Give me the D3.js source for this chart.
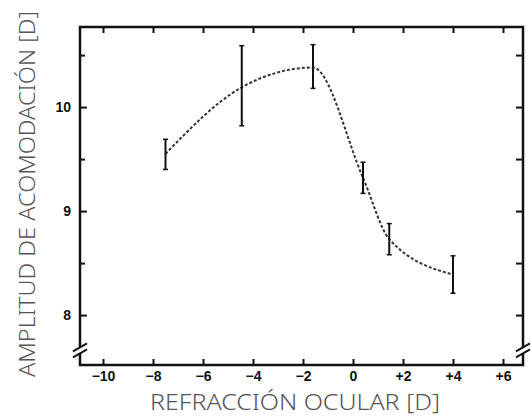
<!DOCTYPE html>
<html>
<head>
<meta charset="utf-8">
<script src="https://cdn.jsdelivr.net/npm/d3@7"></script>
<style>
  body { margin: 0; background: #fff; }
  .tick text { font-family: "Liberation Sans", Arial, sans-serif; font-weight: bold; font-size: 14px; fill: #111; }
  .tick line { stroke: #111; stroke-width: 2; }
  .title { font-family: "Noto Sans", "DejaVu Sans", sans-serif; font-weight: 300; fill: #555; }
</style>
</head>
<body>
<div id="chart"></div>
<script>
// refraction (D), mean amplitude (D), error bar low / high
var refraction = [-7.5, -4.45, -1.6, 0.4, 1.45, 4.0];
var amplitude = [9.55, 10.19, 10.38, 9.32, 8.73, 8.39];
var errLow = [9.40, 9.82, 10.18, 9.17, 8.58, 8.21];
var errHigh = [9.69, 10.59, 10.60, 9.47, 8.88, 8.57];

var xTicks = [-10, -8, -6, -4, -2, 0, 2, 4, 6];
var xTickLabels = ["\u221210", "\u22128", "\u22126", "\u22124", "\u22122", "0", "+2", "+4", "+6"];
var yTicks = [8, 9, 10];
var yMinorTicks = [8.5, 9.5, 10.5];

var width = 532, height = 417;
var svg = d3.select("#chart").append("svg")
  .attr("width", width)
  .attr("height", height);

var x = d3.scaleLinear().domain([-10.92, 6.8]).range([80, 523]);
var y = d3.scaleLinear().domain([7.52, 10.77]).range([365, 27]);

// ticks
svg.append("g")
  .attr("transform", "translate(0," + y.range()[0] + ")")
  .call(d3.axisBottom(x).tickValues(xTicks).tickSize(-6).tickPadding(6)
    .tickFormat(function (d, i) { return xTickLabels[i]; }))
  .call(function (g) { g.select(".domain").remove(); });

svg.append("g")
  .attr("transform", "translate(0," + y.range()[1] + ")")
  .call(d3.axisTop(x).tickValues(xTicks).tickSize(-6).tickFormat(""))
  .call(function (g) { g.select(".domain").remove(); });

svg.append("g")
  .attr("transform", "translate(" + x.range()[0] + ",0)")
  .call(d3.axisLeft(y).tickValues(yTicks).tickSize(-7).tickPadding(9).tickFormat(d3.format("d")))
  .call(function (g) { g.select(".domain").remove(); });

svg.append("g")
  .attr("transform", "translate(" + x.range()[0] + ",0)")
  .call(d3.axisLeft(y).tickValues(yMinorTicks).tickSize(-5).tickFormat(""))
  .call(function (g) { g.select(".domain").remove(); });

svg.append("g")
  .attr("transform", "translate(" + x.range()[1] + ",0)")
  .call(d3.axisRight(y).tickValues(yTicks.concat(yMinorTicks)).tickSize(-7).tickFormat(""))
  .call(function (g) { g.select(".domain").remove(); });

// frame
svg.append("rect")
  .attr("x", x.range()[0])
  .attr("y", y.range()[1])
  .attr("width", x.range()[1] - x.range()[0])
  .attr("height", y.range()[0] - y.range()[1])
  .attr("fill", "none")
  .attr("stroke", "#111")
  .attr("stroke-width", 2.5);

// axis break marks
var breakY = y(7.66);
[x.range()[0], x.range()[1]].forEach(function (bx) {
  svg.append("rect")
    .attr("x", bx - 3)
    .attr("y", breakY - 3)
    .attr("width", 6)
    .attr("height", 6)
    .attr("fill", "#fff");
  [-3, 3].forEach(function (off) {
    svg.append("line")
      .attr("x1", bx - 7).attr("y1", breakY + off + 4)
      .attr("x2", bx + 7).attr("y2", breakY + off - 4)
      .attr("stroke", "#111")
      .attr("stroke-width", 2);
  });
});

// dashed curve
var pts = refraction.map(function (r, i) { return [r, amplitude[i]]; });
svg.append("path")
  .datum(pts)
  .attr("d", d3.line()
    .curve(d3.curveMonotoneX)
    .x(function (d) { return x(d[0]); })
    .y(function (d) { return y(d[1]); }))
  .attr("fill", "none")
  .attr("stroke", "#333")
  .attr("stroke-width", 2)
  .attr("stroke-dasharray", "3,2");

// error bars
var bars = svg.append("g");
refraction.forEach(function (r, i) {
  bars.append("line")
    .attr("x1", x(r)).attr("x2", x(r))
    .attr("y1", y(errLow[i])).attr("y2", y(errHigh[i]))
    .attr("stroke", "#111").attr("stroke-width", 2);
  [errLow[i], errHigh[i]].forEach(function (v) {
    bars.append("line")
      .attr("x1", x(r) - 2.5).attr("x2", x(r) + 2.5)
      .attr("y1", y(v)).attr("y2", y(v))
      .attr("stroke", "#111").attr("stroke-width", 1.5);
  });
});

// titles
svg.append("text")
  .attr("class", "title")
  .attr("x", 295)
  .attr("y", 410)
  .attr("text-anchor", "middle")
  .attr("textLength", 290)
  .attr("lengthAdjust", "spacingAndGlyphs")
  .style("font-size", "22px")
  .text("REFRACCIÓN OCULAR [D]");

svg.append("text")
  .attr("class", "title")
  .attr("transform", "translate(35,194) rotate(-90)")
  .attr("text-anchor", "middle")
  .attr("textLength", 366)
  .attr("lengthAdjust", "spacingAndGlyphs")
  .style("font-size", "21px")
  .text("AMPLITUD DE ACOMODACIÓN [D]");
</script>
</body>
</html>
